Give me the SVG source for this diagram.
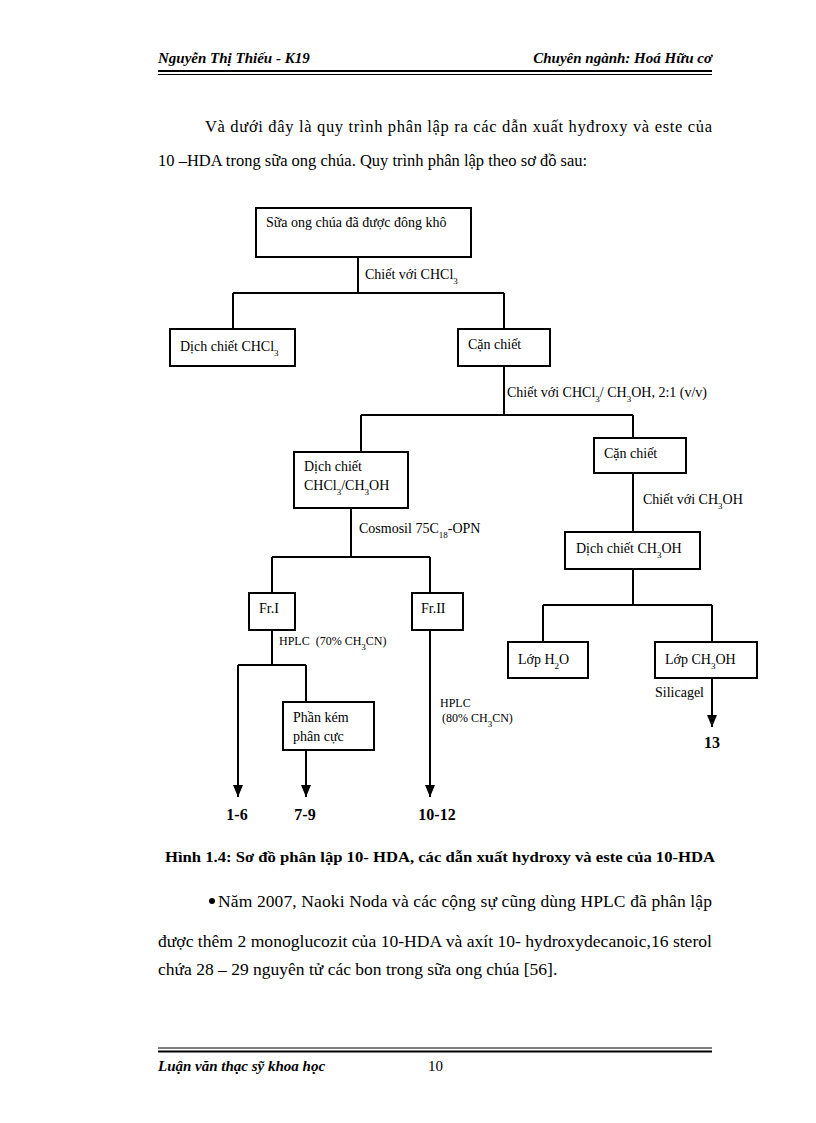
<svg xmlns="http://www.w3.org/2000/svg" width="816" height="1123" viewBox="0 0 816 1123" font-family="'Liberation Serif','Times New Roman',serif">
<defs>
<marker id="arr" markerWidth="12" markerHeight="10" refX="12" refY="5" orient="auto" markerUnits="userSpaceOnUse">
<path d="M0,0 L12,5 L0,10 Z" fill="#000"/>
</marker>
<style>
text{font-family:'Liberation Serif','Times New Roman',serif;fill:#000}
.hd{font-size:15px;font-weight:bold;font-style:italic}
.body{font-size:16.5px}
.body2{font-size:17.5px}
.n{font-size:14px}
.s{font-size:12px}
.b{font-size:16px;font-weight:bold}
.cap{font-size:15.5px;font-weight:bold}
.box{fill:#fff;stroke:#000;stroke-width:2}
.ln{fill:none;stroke:#000;stroke-width:2}
.sub{font-size:9px}
</style>
</defs>
<rect width="816" height="1123" fill="#fff"/>

<!-- header -->
<text class="hd" x="158" y="63">Nguyễn Thị Thiếu - K19</text>
<text class="hd" x="712" y="63" text-anchor="end">Chuyên ngành: Hoá Hữu cơ</text>
<line x1="158" y1="71" x2="712" y2="71" stroke="#000" stroke-width="2"/>
<line x1="158" y1="74.5" x2="712" y2="74.5" stroke="#000" stroke-width="1"/>

<text class="body" x="205" y="132" textLength="507" lengthAdjust="spacing">Và dưới đây là quy trình phân lập ra các dẫn xuất hyđroxy và este của</text>
<text class="body" x="158" y="166">10 –HDA trong sữa ong chúa. Quy trình phân lập theo sơ đồ sau:</text>

<!-- connectors -->
<g id="connectors">
<path class="ln" d="M358,257 V293 M233,293 H504 M233,293 V329 M504,293 V329"/>
<path class="ln" d="M504,366 V415 M361,415 H633 M361,415 V452 M633,415 V438"/>
<path class="ln" d="M633,473 V532"/>
<path class="ln" d="M351,508 V557 M272,557 H430 M272,557 V593 M430,557 V593"/>
<path class="ln" d="M633,569 V605 M543,605 H712 M543,605 V642 M712,605 V642"/>
<path class="ln" d="M272,630 V665 M238,665 H306 M306,665 V702"/>
<line class="ln" x1="238" y1="665" x2="238" y2="797" marker-end="url(#arr)"/>
<line class="ln" x1="306" y1="750" x2="306" y2="797" marker-end="url(#arr)"/>
<line class="ln" x1="430" y1="630" x2="430" y2="797" marker-end="url(#arr)"/>
<line class="ln" x1="712" y1="678" x2="712" y2="727" marker-end="url(#arr)"/>
<text class="n" x="365" y="279">Chiết với CHCl<tspan class="sub" baseline-shift="sub">3</tspan></text>
<text class="n" x="507" y="397">Chiết với CHCl<tspan class="sub" baseline-shift="sub">3</tspan>/ CH<tspan class="sub" baseline-shift="sub">3</tspan>OH, 2:1 (v/v)</text>
<text class="n" x="643" y="504">Chiết với CH<tspan class="sub" baseline-shift="sub">3</tspan>OH</text>
<text class="n" x="359" y="533">Cosmosil 75C<tspan class="sub" baseline-shift="sub">18</tspan>-OPN</text>
<text class="s" x="279" y="645" xml:space="preserve">HPLC  (70% CH<tspan class="sub" baseline-shift="sub">3</tspan>CN)</text>
<text class="s" x="440" y="707">HPLC</text>
<text class="s" x="442" y="722">(80% CH<tspan class="sub" baseline-shift="sub">3</tspan>CN)</text>
<text class="n" x="655" y="697">Silicagel</text>
</g>

<!-- nodes -->
<g id="n1"><rect class="box" x="256" y="208" width="215" height="49"/><text class="n" x="266" y="227">Sữa ong chúa đã được đông khô</text></g>
<g id="n2"><rect class="box" x="170" y="329" width="125" height="37"/><text class="n" x="180" y="351">Dịch chiết CHCl<tspan class="sub" baseline-shift="sub">3</tspan></text></g>
<g id="n3"><rect class="box" x="458" y="329" width="92" height="37"/><text class="n" x="468" y="349">Cặn chiết</text></g>
<g id="n4"><rect class="box" x="294" y="452" width="114" height="56"/><text class="n" x="304" y="471">Dịch chiết</text><text class="n" x="304" y="490">CHCl<tspan class="sub" baseline-shift="sub">3</tspan>/CH<tspan class="sub" baseline-shift="sub">3</tspan>OH</text></g>
<g id="n5"><rect class="box" x="594" y="438" width="92" height="35"/><text class="n" x="604" y="458">Cặn chiết</text></g>
<g id="n6"><rect class="box" x="565" y="532" width="135" height="37"/><text class="n" x="576" y="553">Dịch chiết CH<tspan class="sub" baseline-shift="sub">3</tspan>OH</text></g>
<g id="n7"><rect class="box" x="249" y="593" width="46" height="37"/><text class="n" x="259" y="613">Fr.I</text></g>
<g id="n8"><rect class="box" x="412" y="593" width="51" height="37"/><text class="n" x="421" y="613">Fr.II</text></g>
<g id="n9"><rect class="box" x="508" y="642" width="80" height="36"/><text class="n" x="518" y="664">Lớp H<tspan class="sub" baseline-shift="sub">2</tspan>O</text></g>
<g id="n10"><rect class="box" x="655" y="642" width="102" height="36"/><text class="n" x="665" y="664">Lớp CH<tspan class="sub" baseline-shift="sub">3</tspan>OH</text></g>
<g id="n11"><rect class="box" x="283" y="702" width="91" height="48"/><text class="n" x="293" y="722">Phần kém</text><text class="n" x="293" y="741">phân cực</text></g>
<g id="r1"><text class="b" x="237" y="820" text-anchor="middle">1-6</text></g>
<g id="r2"><text class="b" x="305" y="820" text-anchor="middle">7-9</text></g>
<g id="r3"><text class="b" x="437" y="820" text-anchor="middle">10-12</text></g>
<g id="r4"><text class="b" x="712" y="748" text-anchor="middle">13</text></g>

<text class="cap" x="165" y="862" textLength="550" lengthAdjust="spacingAndGlyphs">Hình 1.4: Sơ đồ phân lập 10- HDA, các dẫn xuất hydroxy và este của 10-HDA</text>
<circle cx="212" cy="901" r="3" fill="#000"/>
<text class="body2" x="218" y="907" textLength="494" lengthAdjust="spacing">Năm 2007, Naoki Noda và các cộng sự cũng dùng HPLC đã phân lập</text>
<text class="body2" x="158" y="947" textLength="554" lengthAdjust="spacingAndGlyphs">được thêm 2 monoglucozit của 10-HDA và axít 10- hydroxydecanoic,16 sterol</text>
<text class="body2" x="158" y="975">chứa 28 – 29 nguyên tử các bon trong sữa ong chúa [56].</text>

<!-- footer -->
<line x1="158" y1="1048" x2="712" y2="1048" stroke="#000" stroke-width="1"/>
<line x1="158" y1="1051.5" x2="712" y2="1051.5" stroke="#000" stroke-width="2"/>
<text class="hd" x="158" y="1071">Luận văn thạc sỹ khoa học</text>
<text x="428" y="1071" font-size="15">10</text>
</svg>
